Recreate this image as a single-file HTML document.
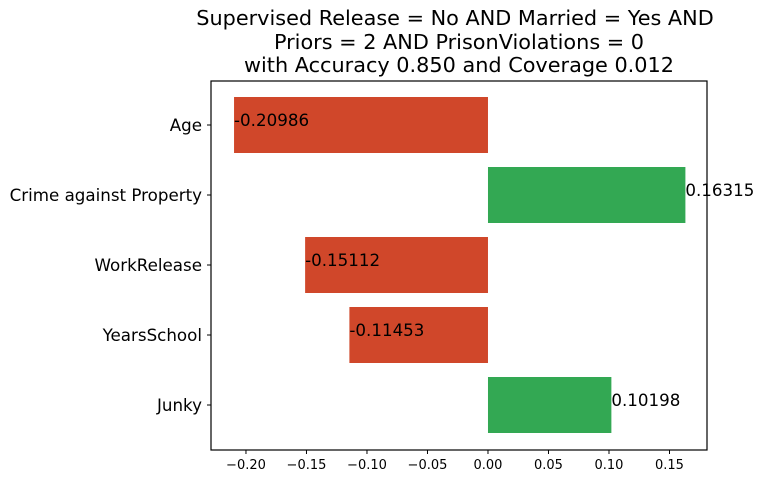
<!DOCTYPE html>
<html><head><meta charset="utf-8"><style>
body{margin:0;background:#fff;}
svg{display:block;font-family:"DejaVu Sans","Liberation Sans",sans-serif;}
</style></head><body>
<svg id="chart" width="763" height="484" viewBox="0 0 763 484">
<g font-size="20.8" text-anchor="middle" fill="#000">
<text x="455" y="25">Supervised Release = No AND Married = Yes AND</text>
<text x="459" y="49">Priors = 2 AND PrisonViolations = 0</text>
<text x="459" y="72">with Accuracy 0.850 and Coverage 0.012</text>
</g>
<g id="bars"></g>
<g id="yaxis"></g>
<g id="xaxis"></g>
<rect x="211" y="81" width="496" height="369" fill="none" stroke="#000" stroke-width="1.2"/>
</svg>
<script>
const categories = ["Age","Crime against Property","WorkRelease","YearsSchool","Junky"];
const values = [-0.20986, 0.16315, -0.15112, -0.11453, 0.10198];
const labels = ["-0.20986","0.16315","-0.15112","-0.11453","0.10198"];
const xTicks = [-0.20,-0.15,-0.10,-0.05,0.00,0.05,0.10,0.15];
const xTickLabels = ["−0.20","−0.15","−0.10","−0.05","0.00","0.05","0.10","0.15"];

const NS="http://www.w3.org/2000/svg";
const L=211,R=707,T=81,B=450;
const xMin=-0.2289,xMax=0.181;
const x=v=>L+(v-xMin)/(xMax-xMin)*(R-L);
const band=70, y0=125;
const y=i=>y0+i*band;
function mk(tag,attrs,parent){const e=document.createElementNS(NS,tag);for(const k in attrs)e.setAttribute(k,attrs[k]);parent.appendChild(e);return e;}
const gb=document.getElementById('bars'),gy=document.getElementById('yaxis'),gx=document.getElementById('xaxis');
values.forEach((v,i)=>{
  const x1=Math.min(x(0),x(v)),w=Math.abs(x(v)-x(0));
  const r=mk('rect',{x:x1,y:y(i)-28,width:w,height:56,fill:v<0?'#d0472a':'#33a853'},gb);
  
  
  const t=mk('text',{x:x(v),y:y(i)+1,'font-size':16.7,fill:'#000'},gb);
  t.textContent=labels[i];
  
  
  mk('line',{x1:L-4,x2:L,y1:y(i),y2:y(i),stroke:'#000'},gy);
  const yl=mk('text',{x:L-9,y:y(i)+6,'font-size':16.7,'text-anchor':'end',fill:'#000'},gy);
  yl.textContent=categories[i];
  
  
});
xTicks.forEach((v,i)=>{
  mk('line',{x1:x(v),x2:x(v),y1:B,y2:B+4,stroke:'#000'},gx);
  const t=mk('text',{x:x(v),y:B+19,'font-size':13,'text-anchor':'middle',fill:'#000'},gx);
  t.textContent=xTickLabels[i];
  
  
});
</script>
</body></html>
